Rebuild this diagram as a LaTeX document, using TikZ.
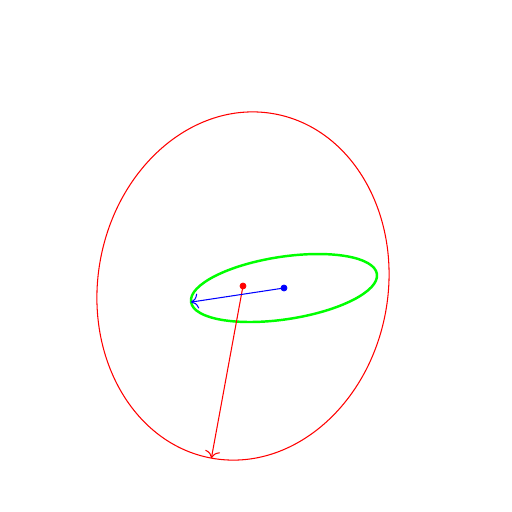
\documentclass[tikz,border=0pt]{standalone}
\usepackage{amsmath}
\usepackage{amssymb}
\usepackage{tikz}
\usetikzlibrary{arrows.meta}

\begin{document}
\begin{tikzpicture}[x=0.02cm, y=0.02cm, >={To[scale=1.4]}] % 点坐标
        \useasboundingbox (0,0) rectangle (512,512);
        \coordinate (O1) at (243,226);
        \coordinate (O2) at (284,224);
        \coordinate (P1) at (211.4,53.9);
        \coordinate (P2) at (191.1,209.9); % 大椭圆
        \draw[red, line width=0.6pt, rotate around={-10.4:(O1)}] (O1) ellipse (145 and 175);
        % 小椭圆
        \draw[green, line width=1.4pt, rotate around={8.6:(O2)}] (O2) ellipse (94 and 31.3);
        % 半轴箭头
        \draw[red, line width=0.6pt, ->] (O1) -- (P1);
        \draw[blue, line width=0.6pt, ->] (O2) -- (P2);
        % 标记中心
        \filldraw[red] (O1) circle (3);
        \filldraw[blue] (O2) circle (3);
    \end{tikzpicture}
\end{document}
